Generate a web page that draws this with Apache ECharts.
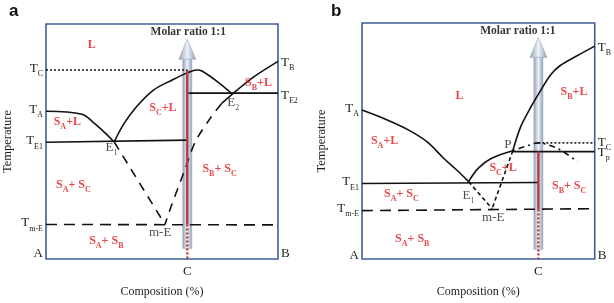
<!DOCTYPE html>
<html>
<head>
<meta charset="utf-8">
<title>Phase diagrams a / b</title>
<script src="https://cdn.jsdelivr.net/npm/echarts@6.0.0/dist/echarts.min.js"></script>
<style>
    html, body { margin: 0; padding: 0; background: #fff; }
    #chart-container { width: 614px; height: 303px; }
</style>
</head>
<body>
<div id="chart-container"></div>
<script>
    // ---- panel a (composition %, temperature in relative units) ----
    const aC = 60.9;
    const aLiqA = [[0, 62.9], [15.5, 61.6], [21, 57.6], [25.2, 53.9], [29.4, 49.8]];
    const aLiqC = [[29.4, 49.8], [33.6, 57.6], [39.1, 64.9], [46.2, 71.8], [54.6, 76.3], [60.9, 79.2], [65.1, 80.4], [67.2, 80], [74.4, 75.1], [80.3, 70.2]];
    const aLiqB = [[100, 84.1], [90, 77.8], [80.3, 70.2], [75.6, 66.1]];
    const aMetaB = [[75.6, 66.1], [70.6, 59.6], [64.3, 49.8], [59.7, 37.6], [53.8, 22], [51.3, 14.7]];
    const aMetaA = [[29.4, 49.8], [51.3, 14.7]];
    const aTE1 = [[0, 49.7], [60.9, 50.6]];
    const aTE2 = [[61.3, 70.6], [100, 70.6]];
    const aTC = [[0, 80.4], [60.9, 80.4]];
    const aTmE = [[0, 14.7], [100, 14.5]];
    const aRed = [80.4, 14.7, 0];          // solid from..to, then dotted to
    const aArrow = [4.5, 93.5];            // shaft bottom, tip

    const aLeftVals = [80.4, 62.9, 49.6, 14.7, 1.6];
    const aLeftNames = ['T_{C}', 'T_{A}', 'T_{E1}', 'T_{m-E}', 'A'];
    const aRightVals = [82.9, 69, 1.6];
    const aRightNames = ['T_{B}', 'T_{E2}', 'B'];

    const aRegionNames = ['L', 'S_{A}+L', 'S_{C}+L', 'S_{B}+L', 'S_{B}+ S_{C}', 'S_{A}+ S_{C}', 'S_{A}+ S_{B}'];
    const aRegionPos = [[19.7, 90.6], [9.2, 57.6], [50.4, 63.7], [91.6, 74.3], [74.8, 37.6], [11.8, 31], [26, 6.9]];
    const aPointNames = ['E_{1}', 'E_{2}', 'm-E', 'Molar ratio 1:1'];
    const aPointPos = [[28.2, 46.9], [80.7, 66.1], [49.2, 10.6], [61.3, 95.9]];

    // ---- panel b ----
    const bC = 75.8;
    const bLiqA = [[0, 63.1], [10.6, 59], [20.3, 54.5], [28, 49.6], [35.2, 42.6], [40.7, 37.7], [45.8, 32.8]];
    const bLiqC = [[45.8, 32.8], [50, 38.5], [55.5, 42.6], [64.8, 45.9]];
    const bLiqB = [[64.8, 45.9], [68.2, 56.1], [72.5, 64.3], [76.7, 71.3], [80.9, 77.9], [85.2, 82], [92.4, 86.1], [100, 90.2]];
    const bMetaC = [[64.8, 45.9], [70, 47.6], [75.8, 49.2], [80, 48.4], [85, 46.3], [92.4, 41.4]];
    const bPmE = [[64.8, 45.9], [55.9, 21.3]];
    const bE1mE = [[45.8, 32.8], [55.9, 21.3]];
    const bTp = [[64.8, 45.5], [100, 45.5]];
    const bTC = [[75.8, 49.2], [100, 49.2]];
    const bTE1 = [[0, 32], [75.8, 32.4]];
    const bTmE = [[0, 20.5], [100, 21.3]];
    const bRed = [45.5, 21, 0];
    const bArrow = [4.1, 93.9];

    const bLeftVals = [63.1, 32, 20.9, 0.8];
    const bLeftNames = ['T_{A}', 'T_{E1}', 'T_{m-E}', 'A'];
    const bRightVals = [88.9, 48.6, 44.5, 0.8];
    const bRightNames = ['T_{B}', 'T_{C}', 'T_{p}', 'B'];

    const bRegionNames = ['L', 'S_{B}+L', 'S_{A}+L', 'S_{C}+L', 'S_{B}+ S_{C}', 'S_{A}+ S_{C}', 'S_{A}+ S_{B}'];
    const bRegionPos = [[41.9, 68.4], [91.1, 70.1], [9.7, 49.2], [60.6, 38.1], [89, 30.3], [16.9, 27], [21.6, 7.8]];
    const bPointNames = ['P', 'E_{1}', 'm-E', 'Molar ratio 1:1'];
    const bPointPos = [[62.7, 48], [45.8, 26.2], [56.4, 16.8], [67, 95.9]];

    // ---------------------------------------------------------------
    const SERIF = 'Liberation Serif';
    const INK = '#222';
    const RED = '#e3161d';

    const richStyles = {
        t: { fontFamily: SERIF, fontSize: 13, color: INK, verticalAlign: 'bottom', padding: [0, 0, 3, 0] },
        s: { fontFamily: SERIF, fontSize: 8, color: INK, verticalAlign: 'bottom' },
        r: { fontFamily: SERIF, fontSize: 12, fontWeight: 'bold', color: RED, verticalAlign: 'bottom', padding: [0, 0, 3, 0] },
        rs: { fontFamily: SERIF, fontSize: 8, fontWeight: 'bold', color: RED, verticalAlign: 'bottom' },
        m: { fontFamily: SERIF, fontSize: 11.5, fontWeight: 'bold', color: '#000', verticalAlign: 'bottom', padding: [0, 0, 3, 0] }
    };

    // 'T_{E1}' -> rich string with subscript
    function sub(str, main, small) {
        return str.split(/(_\{[^}]*\})/).filter(Boolean).map(p =>
            p.startsWith('_{') ? `{${small}|${p.slice(2, -1)}}` : `{${main}|${p}}`
        ).join('');
    }

    function xAxisFor(gi, c) {
        return {
            type: 'value', gridIndex: gi, min: 0, max: 100,
            name: 'Composition (%)', nameLocation: 'middle', nameGap: 27,
            nameTextStyle: { fontFamily: SERIF, fontSize: 12, color: INK },
            axisLine: { show: false }, axisTick: { show: false }, splitLine: { show: false },
            axisLabel: { customValues: [c], formatter: () => 'C', margin: 6, fontFamily: SERIF, fontSize: 13, color: INK }
        };
    }

    function yAxisFor(gi, pos, vals, names, gap) {
        return {
            type: 'value', gridIndex: gi, position: pos, min: 0, max: 100,
            name: gap ? 'Temperature' : '', nameLocation: 'middle', nameGap: gap || 0, nameRotate: 90,
            nameTextStyle: { fontFamily: SERIF, fontSize: 12.5, color: INK },
            axisLine: { show: false }, axisTick: { show: false }, splitLine: { show: false },
            axisLabel: {
                customValues: vals, margin: 3,
                formatter: v => sub(names[vals.indexOf(v)] || '', 't', 's'),
                rich: richStyles
            }
        };
    }

    function line(gi, data, opts) {
        return {
            type: 'line', xAxisIndex: gi, yAxisIndex: gi * 2, data: data,
            symbol: 'none', smooth: opts.smooth || false, silent: true, z: opts.z || 3,
            lineStyle: { color: opts.color || '#111', width: opts.width || 1.6, type: opts.type || 'solid' }
        };
    }

    function arrow(gi, c, ends) {
        return {
            type: 'custom', xAxisIndex: gi, yAxisIndex: gi * 2, silent: true, z: 2,
            data: [[c, ends[0], ends[1]]],
            encode: { x: 0, y: [1, 2] },
            renderItem: function (params, api) {
                const pb = api.coord([api.value(0), api.value(1)]);
                const pt = api.coord([api.value(0), api.value(2)]);
                const headH = 20, headW = 17, shaftW = 9;
                const fill = new echarts.graphic.LinearGradient(0, 0, 1, 0, [
                    { offset: 0, color: '#8e9db5' },
                    { offset: 0.5, color: '#eef2f8' },
                    { offset: 1, color: '#8e9db5' }
                ]);
                return {
                    type: 'group',
                    children: [
                        { type: 'rect', shape: { x: pb[0] - shaftW / 2, y: pt[1] + headH, width: shaftW, height: pb[1] - pt[1] - headH },
                          style: { fill: fill, stroke: '#9aa8bd', lineWidth: 0.6 } },
                        { type: 'polygon', shape: { points: [[pt[0], pt[1]], [pt[0] - headW / 2, pt[1] + headH], [pt[0] + headW / 2, pt[1] + headH]] },
                          style: { fill: fill, stroke: '#9aa8bd', lineWidth: 0.6 } }
                    ]
                };
            }
        };
    }

    function texts(gi, names, pos, main, small) {
        return {
            type: 'scatter', xAxisIndex: gi, yAxisIndex: gi * 2, symbolSize: 1, silent: true, z: 6,
            itemStyle: { color: 'transparent' },
            data: names.map((n, i) => ({ name: n, value: pos[i] })),
            label: {
                show: true, position: 'inside', color: '#000',
                formatter: p => sub(p.name, p.name.startsWith('Molar') ? 'm' : main, small),
                rich: richStyles
            }
        };
    }

    function redLine(gi, c, r) {
        return [
            line(gi, [[c, r[0]], [c, r[1]]], { color: '#b23b3b', width: 2.4, z: 4 }),
            line(gi, [[c, r[1]], [c, r[2]]], { color: '#c0392b', width: 2.4, type: [2, 2], z: 4 })
        ];
    }

    const chart = echarts.init(document.getElementById('chart-container'));

    const option = {
        animation: false,
        title: [
            { text: 'a', left: 4, top: -2, textStyle: { fontFamily: 'Liberation Sans', fontSize: 17, fontWeight: 'bold', color: '#111' } },
            { text: 'b', left: 326, top: -2, textStyle: { fontFamily: 'Liberation Sans', fontSize: 17, fontWeight: 'bold', color: '#111' } }
        ],
        grid: [
            { left: 40, top: 24, width: 238, height: 245, show: true, borderColor: '#3d5f97', borderWidth: 1.6 },
            { left: 362, top: 23, width: 236, height: 244, show: true, borderColor: '#3d5f97', borderWidth: 1.6 }
        ],
        xAxis: [xAxisFor(0, aC), xAxisFor(1, bC)],
        yAxis: [
            yAxisFor(0, 'left', aLeftVals, aLeftNames, 32),
            yAxisFor(0, 'right', aRightVals, aRightNames, 0),
            yAxisFor(1, 'left', bLeftVals, bLeftNames, 34),
            yAxisFor(1, 'right', bRightVals, bRightNames, 0)
        ],
        series: [
            // panel a
            arrow(0, aC, aArrow),
            line(0, aLiqA, { smooth: 0.35 }),
            line(0, aLiqC, { smooth: 0.35 }),
            line(0, aLiqB, { smooth: 0.3 }),
            line(0, aMetaB, { smooth: 0.3, type: [9, 7] }),
            line(0, aMetaA, { type: [9, 7] }),
            line(0, aTE1, {}),
            line(0, aTE2, {}),
            line(0, aTC, { type: [2, 2] }),
            line(0, aTmE, { type: [11, 7] }),
            ...redLine(0, aC, aRed),
            texts(0, aRegionNames, aRegionPos, 'r', 'rs'),
            texts(0, aPointNames, aPointPos, 't', 's'),
            // panel b
            arrow(1, bC, bArrow),
            line(1, bLiqA, { smooth: 0.35 }),
            line(1, bLiqC, { smooth: 0.35 }),
            line(1, bLiqB, { smooth: 0.3 }),
            line(1, bMetaC, { smooth: 0.35, type: [2, 4, 6, 4] }),
            line(1, bPmE, { type: [4, 3] }),
            line(1, bE1mE, { type: [4, 3] }),
            line(1, bTp, {}),
            line(1, bTC, { type: [2, 2] }),
            line(1, bTE1, {}),
            line(1, bTmE, { type: [11, 7] }),
            ...redLine(1, bC, bRed),
            texts(1, bRegionNames, bRegionPos, 'r', 'rs'),
            texts(1, bPointNames, bPointPos, 't', 's')
        ]
    };

    chart.setOption(option);

    window.addEventListener('resize', function () {
        chart.resize();
    });
</script>
</body>
</html>
